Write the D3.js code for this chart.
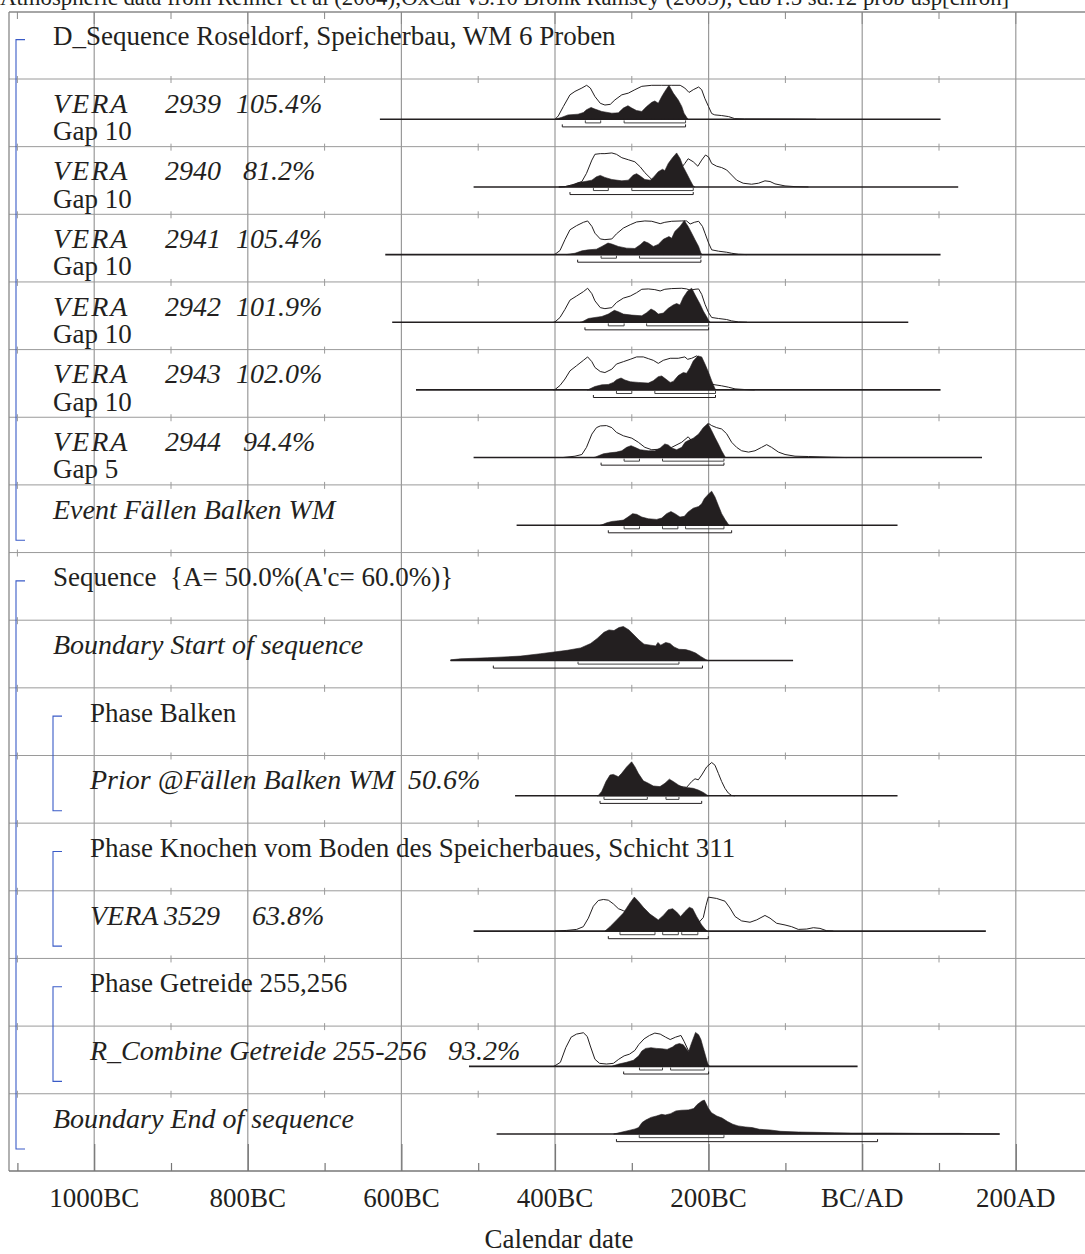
<!DOCTYPE html>
<html><head><meta charset="utf-8">
<script src="https://cdn.jsdelivr.net/npm/d3@7"></script>
<style>
html,body{margin:0;padding:0;background:#fff;}
svg{display:block;font-family:"Liberation Serif","Times New Roman",serif;}
text{white-space:pre;}
</style></head><body>
<svg id="chart" width="1085" height="1254"></svg>
<script>
// ---- Calendar axis ----
const tickYears = d3.range(-1100, 301, 100);
const labelYears = [-1000, -800, -600, -400, -200, 0, 200];
const labelText = ["1000BC", "800BC", "600BC", "400BC", "200BC", "BC/AD", "200AD"];
const headerText = "Atmospheric data from Reimer et al (2004);OxCal v3.10 Bronk Ramsey (2005); cub r:5 sd:12 prob usp[chron]";
const axisTitle = "Calendar date";

// ---- Row labels ----
const rowLabels = [
  ["D_Sequence Roseldorf, Speicherbau, WM 6 Proben"],
  ["VERA", "2939", "105.4%"],
  ["VERA", "2940", " 81.2%"],
  ["VERA", "2941", "105.4%"],
  ["VERA", "2942", "101.9%"],
  ["VERA", "2943", "102.0%"],
  ["VERA", "2944", " 94.4%"],
  ["Event Fällen Balken WM"],
  ["Sequence  {A= 50.0%(A'c= 60.0%)}"],
  ["Boundary Start of sequence"],
  ["Phase Balken"],
  ["Prior @Fällen Balken WM", "50.6%"],
  ["Phase Knochen vom Boden des Speicherbaues, Schicht 311"],
  ["VERA", "3529", "63.8%"],
  ["Phase Getreide 255,256"],
  ["R_Combine Getreide 255-256", "93.2%"],
  ["Boundary End of sequence"]
];
const rowNotes = ["", "Gap 10", "Gap 10", "Gap 10", "Gap 10", "Gap 10", "Gap 5", "", "", "", "", "", "", "", "", "", ""];
const rowItalic = [false, true, true, true, true, true, true, true, false, true, false, true, false, true, false, true, true];
const rowDepth = [0, 0, 0, 0, 0, 0, 0, 0, 0, 0, 1, 1, 1, 1, 1, 1, 0];
// groups: [first row, last row]
const groupSpans = [[0, 7], [8, 16], [10, 11], [12, 13], [14, 15]];

// ---- Distributions: [year (negative = BC), relative probability] ----
const prior2939 = [[-400,0],[-395.7,0.10],[-389,0.38],[-380.5,0.72],[-374,0.82],[-365,0.92],[-358.8,1.0],[-354,0.92],[-348,0.67],[-341,0.47],[-335,0.42],[-328,0.44],[-322,0.57],[-313,0.72],[-304.5,0.77],[-296,0.87],[-287,0.97],[-274,1.0],[-261,1.0],[-248,1.0],[-237,1.0],[-231,0.92],[-225.5,0.79],[-220,0.87],[-213,0.95],[-209,0.87],[-205,0.62],[-200,0.37],[-196,0.17],[-192,0.13],[-183,0.11],[-174,0.08],[-166,0.02],[-153,0.01],[-87,0.005],[-60,0]];
const post2939 = [[-400,0],[-391,0.06],[-383,0.13],[-370,0.15],[-363,0.20],[-359,0.28],[-353,0.35],[-348,0.30],[-339,0.23],[-326,0.18],[-317.5,0.19],[-311,0.33],[-305,0.40],[-300,0.33],[-294,0.26],[-287,0.23],[-281,0.37],[-274,0.50],[-270,0.54],[-265.5,0.47],[-261,0.67],[-257,0.82],[-251.6,1.0],[-246,0.77],[-239.5,0.57],[-235,0.38],[-232,0.18],[-228.6,0.06],[-226.6,0]];
const prior2940 = [[-395,0],[-387,0.01],[-374,0.08],[-365,0.16],[-359,0.40],[-352,0.79],[-348,0.96],[-341,0.98],[-335,0.98],[-326,1.0],[-320,0.96],[-313,0.86],[-304.5,0.80],[-296,0.74],[-289,0.59],[-283,0.42],[-274,0.22],[-265.5,0.25],[-252.5,0.33],[-239.5,0.45],[-231,0.69],[-226.6,0.83],[-220,0.74],[-214,0.61],[-209,0.79],[-204,0.94],[-200,0.88],[-196,0.69],[-189.5,0.61],[-183,0.57],[-176.5,0.50],[-170,0.35],[-163.5,0.20],[-155,0.11],[-144,0.08],[-135,0.11],[-126.6,0.18],[-120,0.16],[-113.6,0.09],[-100.5,0.03],[-87.5,0.01],[-70,0]];
const post2940 = [[-395,0],[-387,0.01],[-378,0.06],[-369.6,0.13],[-361,0.16],[-352,0.20],[-346,0.30],[-341,0.34],[-335,0.28],[-326,0.22],[-313,0.18],[-304.5,0.20],[-298,0.35],[-293.7,0.39],[-289,0.32],[-283,0.22],[-276,0.20],[-272,0.28],[-265.5,0.45],[-260,0.52],[-257,0.48],[-252.5,0.69],[-247,0.86],[-241.6,1.0],[-237,0.83],[-233,0.59],[-228.6,0.40],[-224,0.20],[-220,0.03],[-218,0]];
const prior2941 = [[-402,0],[-400,0.01],[-393.5,0.12],[-387,0.44],[-380.5,0.73],[-372,0.85],[-363,0.95],[-357.5,0.99],[-352,0.83],[-348,0.63],[-341,0.46],[-335,0.44],[-326,0.46],[-320,0.61],[-311,0.78],[-302,0.88],[-293.7,0.96],[-283,0.99],[-274,0.98],[-263,0.91],[-257,0.95],[-248,0.98],[-235,0.99],[-228.6,0.99],[-224,0.90],[-218.6,0.95],[-213,0.98],[-208,0.83],[-204.7,0.63],[-200,0.34],[-196,0.14],[-187,0.10],[-176.5,0.07],[-170,0.04],[-161,0.01],[-150,0]];
const post2941 = [[-385,0],[-382.6,0.01],[-374,0.04],[-365,0.11],[-356.6,0.14],[-346,0.16],[-339,0.24],[-331,0.34],[-326,0.31],[-317.5,0.24],[-306.7,0.19],[-296,0.18],[-289,0.29],[-284,0.39],[-278.5,0.34],[-272,0.24],[-265.5,0.30],[-259,0.45],[-251.6,0.53],[-248,0.48],[-244,0.68],[-237.3,0.83],[-231.6,1.0],[-226.6,0.83],[-222,0.63],[-217.7,0.44],[-213,0.24],[-210,0.04],[-208,0]];
const prior2942 = [[-402,0],[-400,0.01],[-393.5,0.14],[-387,0.38],[-380.5,0.65],[-372,0.77],[-363,0.90],[-357.5,1.0],[-352,0.84],[-348,0.63],[-341,0.43],[-335,0.40],[-326,0.43],[-320,0.58],[-311,0.71],[-302,0.77],[-293.7,0.87],[-287,0.97],[-278.5,0.98],[-270,0.96],[-263,0.92],[-257,0.97],[-248,0.99],[-235,1.0],[-228.6,0.98],[-224,0.94],[-217.7,0.97],[-213,0.98],[-209,0.82],[-204.7,0.53],[-200,0.28],[-196,0.14],[-187,0.11],[-176.5,0.08],[-170,0.04],[-161,0.01],[-150,0]];
const post2942 = [[-367,0],[-365,0.01],[-356.6,0.11],[-348,0.14],[-339,0.17],[-330.6,0.24],[-322.7,0.35],[-317.5,0.31],[-311,0.24],[-300,0.21],[-287,0.19],[-280.7,0.28],[-275,0.39],[-270,0.33],[-265.5,0.24],[-259,0.27],[-252.5,0.41],[-246,0.51],[-241.6,0.55],[-237.3,0.51],[-233,0.73],[-227.3,0.92],[-222,1.0],[-216.8,0.77],[-211,0.53],[-206.9,0.33],[-202.5,0.16],[-200,0.06],[-198,0]];
const prior2943 = [[-402,0],[-400,0.01],[-393.5,0.13],[-387,0.32],[-380.5,0.56],[-372,0.71],[-363,0.87],[-357.5,0.97],[-352,0.83],[-348,0.66],[-341,0.54],[-335,0.51],[-326,0.61],[-320,0.76],[-311,0.83],[-302,0.90],[-293.7,0.97],[-285,0.97],[-278.5,0.92],[-272,0.87],[-265.5,0.78],[-259,0.87],[-250,0.93],[-239.5,0.93],[-231,0.97],[-227.3,0.90],[-222,0.93],[-215.5,1.0],[-209,0.90],[-204.7,0.61],[-200,0.32],[-196,0.17],[-191.7,0.15],[-183,0.12],[-174.3,0.08],[-165.6,0.03],[-152.6,0.01],[-140,0]];
const post2943 = [[-358,0],[-356.6,0.01],[-348,0.10],[-339,0.15],[-330.6,0.16],[-324,0.22],[-319.7,0.30],[-314,0.35],[-309,0.29],[-302,0.24],[-291.5,0.22],[-278.5,0.20],[-272,0.27],[-265.5,0.39],[-261,0.41],[-257,0.34],[-250,0.22],[-246,0.25],[-239.5,0.42],[-233,0.51],[-228.6,0.49],[-224,0.66],[-220,0.85],[-214,1.0],[-209,0.97],[-204.7,0.76],[-200,0.51],[-196,0.27],[-192.5,0.08],[-190.8,0]];
const prior2944 = [[-390,0],[-374,0.04],[-365,0.09],[-359,0.30],[-352,0.69],[-346,0.88],[-341,0.93],[-333,0.94],[-326,0.88],[-320,0.74],[-311,0.64],[-300,0.57],[-291.5,0.45],[-283,0.30],[-274,0.23],[-261,0.25],[-248,0.30],[-235,0.45],[-226.6,0.61],[-222,0.49],[-213,0.55],[-204.7,0.85],[-200,1.0],[-196,0.94],[-189.5,0.88],[-183,0.84],[-176.5,0.70],[-170,0.45],[-163.5,0.30],[-157,0.20],[-148,0.16],[-139.6,0.20],[-131,0.30],[-124.4,0.38],[-118,0.30],[-109,0.16],[-100.5,0.09],[-87.5,0.04],[-70,0.03],[-55,0.02],[-40,0.01],[-20,0]];
const post2944 = [[-350,0],[-348,0.01],[-337,0.11],[-328.4,0.14],[-320,0.16],[-313,0.20],[-306.7,0.30],[-301,0.35],[-296,0.30],[-289,0.23],[-278.5,0.20],[-270,0.20],[-263,0.28],[-257,0.40],[-252.5,0.37],[-248,0.28],[-241.6,0.23],[-235,0.30],[-230.6,0.45],[-226.6,0.50],[-220,0.57],[-213,0.69],[-207,0.88],[-201,1.0],[-196,0.79],[-191.7,0.59],[-187.3,0.40],[-183,0.20],[-179.5,0.06],[-178,0]];
const postEvent = [[-341,0],[-339,0.01],[-332.7,0.07],[-326,0.11],[-317.5,0.13],[-311,0.15],[-305,0.24],[-299,0.34],[-293.7,0.32],[-287,0.24],[-278.5,0.19],[-267.6,0.17],[-261,0.21],[-254.6,0.34],[-249,0.40],[-243.8,0.34],[-237.3,0.24],[-231.6,0.26],[-226.6,0.39],[-220,0.50],[-213,0.55],[-209,0.63],[-205.6,0.78],[-200,0.92],[-196,1.0],[-191.7,0.83],[-187.3,0.58],[-183,0.34],[-178.6,0.17],[-175,0.05],[-173.4,0]];
const postStart = [[-536,0],[-535.8,0.02],[-522.8,0.05],[-488,0.08],[-444.7,0.13],[-418.7,0.20],[-401.3,0.25],[-384,0.30],[-366.6,0.37],[-353.6,0.50],[-345,0.65],[-336.2,0.83],[-329.7,0.90],[-323.2,0.88],[-316.7,0.97],[-311,1.0],[-303.7,0.90],[-297.1,0.75],[-290.6,0.60],[-284.1,0.48],[-275.4,0.45],[-268.9,0.43],[-265.9,0.53],[-262.4,0.45],[-255.9,0.53],[-250.3,0.50],[-245.1,0.40],[-238.6,0.33],[-229.9,0.32],[-223.4,0.28],[-216.9,0.22],[-210.3,0.12],[-203.8,0.03],[-200.8,0]];
const priorFaellen = [[-254.6,0.28],[-237.3,0.27],[-228.6,0.25],[-222,0.42],[-217.7,0.50],[-213.4,0.47],[-209,0.61],[-202.5,0.85],[-196,0.98],[-191.7,0.90],[-187.3,0.66],[-183,0.42],[-178.7,0.22],[-174.3,0.08],[-170,0.01],[-165.6,0]];
const postFaellen = [[-345,0],[-343.6,0.01],[-339.2,0.13],[-333.6,0.42],[-328.4,0.61],[-324,0.63],[-317.5,0.56],[-313.2,0.66],[-306.7,0.85],[-300.2,1.0],[-295.8,0.85],[-291.5,0.66],[-285,0.44],[-278.5,0.37],[-272,0.29],[-263.3,0.27],[-256.8,0.37],[-251.1,0.49],[-246,0.42],[-239.4,0.32],[-232.9,0.25],[-226.4,0.24],[-220,0.22],[-213.4,0.17],[-206.9,0.10],[-202.5,0.03],[-200.4,0]];
const prior3529 = [[-400,0],[-384.8,0.02],[-371.8,0.05],[-363.1,0.13],[-356.6,0.38],[-350.1,0.73],[-343.6,0.90],[-337.1,0.93],[-330.6,0.91],[-324,0.80],[-317.5,0.66],[-311,0.60],[-293.7,0.45],[-267.6,0.30],[-241.6,0.22],[-215.6,0.18],[-206.9,0.40],[-203.4,0.75],[-200.4,1.0],[-189.5,0.96],[-178.7,0.88],[-172.2,0.68],[-165.6,0.43],[-157,0.30],[-146.1,0.26],[-137.4,0.33],[-126.6,0.46],[-120,0.38],[-111.4,0.23],[-100.5,0.18],[-91.9,0.13],[-83.2,0.05],[-72.3,0.06],[-63.6,0.10],[-55,0.08],[-46.3,0.01],[-37.6,0]];
const post3529 = [[-335,0],[-328.4,0.13],[-319.7,0.33],[-311,0.53],[-302.4,0.83],[-296.7,1.0],[-291.5,0.88],[-285,0.70],[-276.3,0.50],[-265.5,0.33],[-259,0.46],[-252.4,0.63],[-246.8,0.66],[-241.6,0.56],[-236.4,0.43],[-230.7,0.58],[-225.1,0.70],[-220.8,0.66],[-215.6,0.43],[-209,0.18],[-204.7,0.06],[-201.7,0]];
const priorCombine = [[-402,0],[-400,0.02],[-393,0.12],[-386,0.55],[-379,0.86],[-372,0.95],[-363,0.99],[-358,0.88],[-354,0.60],[-348,0.21],[-342,0.09],[-333,0.07],[-324,0.09],[-317,0.21],[-310,0.31],[-303,0.36],[-296,0.47],[-291,0.64],[-284,0.81],[-277,0.91],[-270,0.98],[-263,0.95],[-256,0.86],[-250,0.79],[-243,0.86],[-236,0.91],[-232,0.74],[-226,0.45],[-217,0.35],[-203,0.11],[-199,0]];
const postCombine = [[-326,0],[-324,0.02],[-317,0.07],[-307,0.12],[-298,0.18],[-291,0.31],[-287,0.45],[-282,0.53],[-275,0.55],[-268,0.53],[-261,0.52],[-254,0.50],[-247,0.57],[-243,0.64],[-238,0.67],[-233,0.64],[-230,0.55],[-226,0.43],[-223,0.64],[-219,0.88],[-217,1.0],[-213,0.93],[-210,0.79],[-207,0.55],[-204,0.31],[-201,0.07],[-199,0]];
const postEnd = [[-323.6,0],[-314.3,0.05],[-305,0.10],[-295.8,0.15],[-291.2,0.19],[-286.6,0.34],[-281.9,0.41],[-275,0.49],[-268,0.53],[-261,0.58],[-256.5,0.56],[-249.5,0.60],[-242.6,0.68],[-235.6,0.70],[-226.4,0.71],[-219.4,0.75],[-214.8,0.87],[-208.8,0.97],[-205.5,1.0],[-200.9,0.78],[-196.3,0.63],[-189.3,0.53],[-182.4,0.47],[-175.4,0.37],[-168.5,0.29],[-161.6,0.24],[-152.3,0.21],[-143.3,0.19],[-133.8,0.14],[-120,0.12],[-106,0.08],[-83,0.06],[-60,0.05],[-36.5,0.04],[-13.4,0.03],[33,0.03],[79,0.02],[125.5,0.02],[148.6,0.01],[178.8,0]];

// per row: prior (unmodelled) and posterior (modelled) distributions
const rowPriors = [null, prior2939, prior2940, prior2941, prior2942, prior2943, prior2944, null, null, null, null, priorFaellen, null, prior3529, null, priorCombine, null];
const rowPosteriors = [null, post2939, post2940, post2941, post2942, post2943, post2944, postEvent, null, postStart, null, postFaellen, null, post3529, null, postCombine, postEnd];
// calculation range drawn as the base line of each distribution
const rowExtents = [null, [-628,102], [-506,125], [-621,102], [-612,60], [-581,102], [-506,156], [-450,46], null, [-536,-90], null, [-452,46], null, [-506,161], null, [-512,-6], [-476,179]];
// highest posterior density ranges, 68.2% and 95.4%
const rowRanges68 = [null, [[-360.5,-340.5],[-310,-230]], [[-350,-330.6],[-300,-220]], [[-340,-320],[-290,-210]], [[-330.6,-310],[-280.7,-200]], [[-320,-300],[-270,-191]], [[-310,-290],[-260,-180]], [[-310,-290],[-260,-240],[-230,-180]], null, [[-370,-238.6]], null, [[-336.2,-279.8],[-255.5,-238.6]], null, [[-315.4,-269.8],[-259.8,-239.4],[-235,-214]], null, [[-290,-260],[-249.5,-205.5]], [[-290.3,-180]]];
const rowRanges95 = [null, [[-390.5,-230]], [[-380.5,-220]], [[-370.5,-210]], [[-361,-200]], [[-350,-191]], [[-340,-180]], [[-330.6,-170]], null, [[-480.3,-208]], null, [[-341.4,-209]], null, [[-330.6,-200.4]], null, [[-310.6,-200]], [[-320,20]]];

// ---- Layout ----
const W = 1085, H = 1254;
const frameLeft = 9, frameTop = 12, axisY = 1171;
const rowH = 67.65, firstRowTop = 11.35;
const baseOffset = 40.3, peakH = 34;
const ink = "#231f20", gridCol = "#9a9a9a", bracketBlue = "#3a5bc7";
const fontSize = 27, italicSize = 28;
// start x of each label field (label columns)
const fieldColumns = {
  1: [53,165,236], 2: [53,165,236], 3: [53,165,236], 4: [53,165,236], 5: [53,165,236], 6: [53,165,236],
  11: [90,408], 13: [90,164,252], 15: [90,448]
};
// rows whose first field is set with wide tracking
const trackedRows = [1, 2, 3, 4, 5, 6];

const svg = d3.select("#chart");
const x = d3.scaleLinear().domain([-1000, 200]).range([94.2, 1015.8]);
const rowTop = d3.scaleLinear().domain([0, 17]).range([firstRowTop, firstRowTop + 17 * rowH]);
const base = k => rowTop(k) + baseOffset;
const h = d3.scaleLinear().domain([0, 1]).range([0, peakH]);

// header line (partly above the page edge)
svg.append("text").attr("x", 0).attr("y", 5).attr("font-size", 22.8).attr("fill", ink).text(headerText);

// grid
const grid = svg.append("g");
const gridYs = d3.range(1, 17).map(k => rowTop(k));
grid.selectAll("line.h").data(gridYs).join("line")
  .attr("x1", frameLeft).attr("x2", W).attr("y1", d => d).attr("y2", d => d)
  .attr("stroke", gridCol).attr("stroke-width", 1);
gridYs.forEach(gy => {
  grid.selectAll(null).data(tickYears.filter(t => t % 200 !== 0)).join("line")
    .attr("x1", d => x(d)).attr("x2", d => x(d)).attr("y1", gy - 3).attr("y2", gy + 4)
    .attr("stroke", gridCol).attr("stroke-width", 1);
});
grid.selectAll("line.v").data(labelYears).join("line")
  .attr("x1", d => x(d)).attr("x2", d => x(d)).attr("y1", frameTop).attr("y2", axisY)
  .attr("stroke", gridCol).attr("stroke-width", 1.2);
// frame
svg.append("line").attr("x1", frameLeft).attr("x2", W).attr("y1", frameTop).attr("y2", frameTop).attr("stroke", "#888").attr("stroke-width", 1.3);
svg.append("line").attr("x1", frameLeft).attr("x2", frameLeft).attr("y1", frameTop).attr("y2", axisY).attr("stroke", "#888").attr("stroke-width", 1.3);
svg.selectAll(null).data(tickYears).join("line")
  .attr("x1", d => x(d)).attr("x2", d => x(d)).attr("y1", frameTop).attr("y2", d => frameTop + (d % 200 === 0 ? 12 : 7))
  .attr("stroke", "#888").attr("stroke-width", 1);

// bottom axis
const axis = d3.axisBottom(x).tickValues(tickYears).tickSize(0).tickFormat("");
const axG = svg.append("g").attr("transform", `translate(0,${axisY})`).call(axis);
axG.select(".domain").attr("d", `M${frameLeft},0H${W}`).attr("stroke", "#777").attr("stroke-width", 1.6);
axG.selectAll(".tick line").attr("y2", d => d % 200 === 0 ? -27 : -8).attr("stroke", "#777").attr("stroke-width", 1.2);
svg.selectAll(null).data(labelYears).join("text")
  .attr("x", d => x(d)).attr("y", 1207).attr("text-anchor", "middle")
  .attr("font-size", fontSize).attr("fill", ink)
  .text((d, i) => labelText[i]);
svg.append("text").attr("x", 559).attr("y", 1248).attr("text-anchor", "middle")
  .attr("font-size", fontSize).attr("fill", ink).text(axisTitle);

// group brackets
const bracketX = d => d === 0 ? 16 : 53;
groupSpans.forEach(([a, b]) => {
  const bx = bracketX(rowDepth[a]);
  const y1 = base(a) - 12, y2 = base(b) + 15;
  svg.append("path")
    .attr("d", `M${bx + 9},${y1}H${bx}V${y2}H${bx + 9}`)
    .attr("fill", "none").attr("stroke", bracketBlue).attr("stroke-width", 1.1);
});

// distributions
const line = d3.line().x(d => x(d[0]));
const area = d3.area().x(d => x(d[0]));
const plots = svg.append("g");
rowPosteriors.forEach((post, k) => {
  const b = base(k);
  const g = plots.append("g");
  const ext = rowExtents[k];
  if (ext) {
    g.append("line").attr("x1", x(ext[0])).attr("x2", x(ext[1])).attr("y1", b).attr("y2", b)
      .attr("stroke", ink).attr("stroke-width", 1.6);
  }
  const prior = rowPriors[k];
  if (prior) {
    g.append("path").datum(prior)
      .attr("d", line.y(d => b - h(d[1])))
      .attr("fill", "none").attr("stroke", ink).attr("stroke-width", 1);
  }
  if (post) {
    g.append("path").datum(post)
      .attr("d", area.y0(b).y1(d => b - h(d[1])))
      .attr("fill", ink).attr("stroke", ink).attr("stroke-width", 0.6);
  }
  const drawRanges = (ranges, dy, col) => {
    if (!ranges) return;
    g.selectAll(null).data(ranges).join("path")
      .attr("d", r => `M${x(r[0])},${b + dy - 2.5}V${b + dy}H${x(r[1])}V${b + dy - 2.5}`)
      .attr("fill", "none").attr("stroke", col).attr("stroke-width", 1);
  };
  drawRanges(rowRanges68[k], 3.6, "#444");
  drawRanges(rowRanges95[k], 7.6, ink);
});

// row labels
rowLabels.forEach((fields, k) => {
  const indent = rowDepth[k] === 0 ? 53 : 90;
  const cols = fieldColumns[k] || [indent];
  const t = svg.append("text").attr("y", base(k) - 6.5)
    .attr("font-size", rowItalic[k] ? italicSize : fontSize).attr("fill", ink)
    .attr("font-style", rowItalic[k] ? "italic" : "normal");
  fields.forEach((f, i) => {
    const s = t.append("tspan").attr("x", cols[i]).text(f);
    if (i === 0 && trackedRows.includes(k)) s.attr("letter-spacing", 2);
  });
  if (rowNotes[k]) {
    svg.append("text").attr("x", indent).attr("y", base(k) + 20.7)
      .attr("font-size", fontSize).attr("fill", ink).text(rowNotes[k]);
  }
});
</script></body></html>
